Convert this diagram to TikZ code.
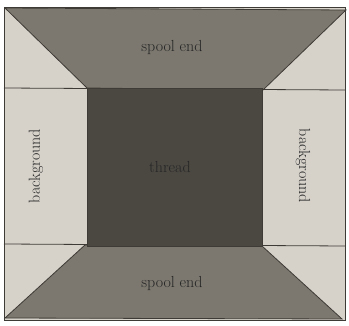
\documentclass[tikz,border=0pt]{standalone}
\usetikzlibrary{positioning}

\begin{document}
\begin{tikzpicture}[
  x=1pt, y=-1pt,
  font=\fontsize{16}{18}\selectfont,
  sheet/.style={fill=paper, draw=edge, line width=0.8pt},
  spool/.style={fill=spoolgray, draw=edge, line width=0.8pt},
  core/.style={fill=threadgray, draw=edge, line width=0.8pt},
  label/.style={text=black!85, inner sep=1pt}
]
\definecolor{paper}{HTML}{D6D2CA}
\definecolor{spoolgray}{HTML}{7C786F}
\definecolor{threadgray}{HTML}{4B4842}
\definecolor{edge}{HTML}{3E3B36}

\useasboundingbox[fill=white] (0,0) rectangle (349,326);

% sheet and dividing lines
\draw[sheet] (4,7) rectangle (345,320);
\draw[edge, line width=0.8pt] (4,88) -- (345,90);
\draw[edge, line width=0.8pt] (4,244) -- (345,246);

% the two spool ends
\draw[spool] (5,8) -- (346,10) -- (263,90) -- (87,88) -- cycle;
\draw[spool] (85,245) -- (262,246) -- (342,319) -- (5,318) -- cycle;

% thread in the middle
\draw[core] (87,88) rectangle (262,246);

\node[label] (top) at (172,48) {spool end};
\node[label] (bottom) at (172,284) {spool end};
\node[label] (thread) at (170,167) {thread};
\node[label, rotate=90] (left) at (36,166) {background};
\node[label, rotate=-90] (right) at (303,166) {background};

\end{tikzpicture}
\end{document}
